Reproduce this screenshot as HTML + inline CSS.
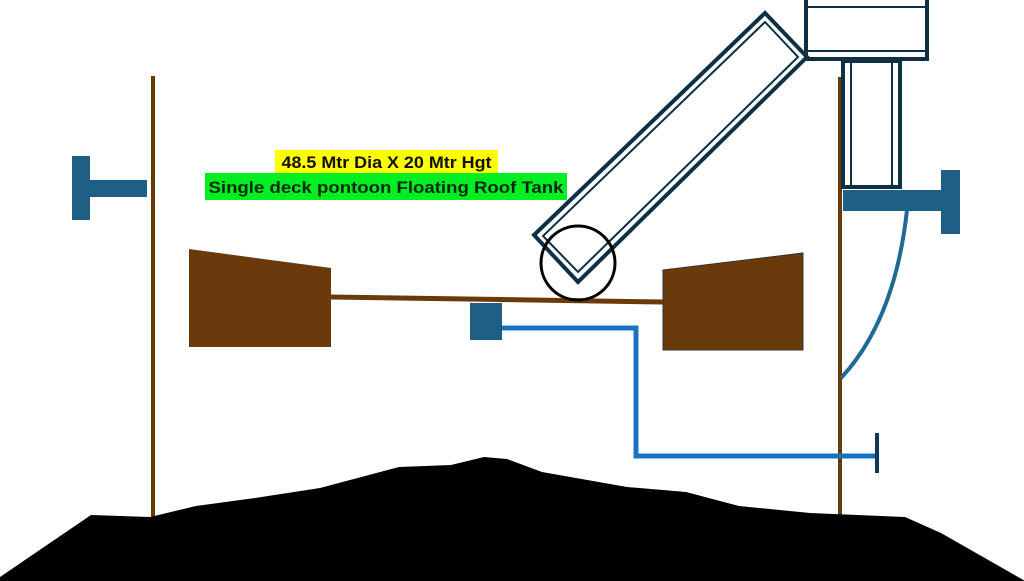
<!DOCTYPE html>
<html><head><style>html,body{margin:0;padding:0;background:#fff}svg{display:block}</style></head>
<body>
<svg width="1024" height="581" viewBox="0 0 1024 581" xmlns="http://www.w3.org/2000/svg">
<rect width="1024" height="581" fill="#fff"/>
<!-- walls -->
<rect x="151" y="76" width="4" height="442" fill="#6b3a0a"/>
<rect x="838" y="77" width="4" height="440" fill="#6b3a0a"/>
<!-- left T -->
<rect x="88" y="180" width="59" height="17" fill="#1f5f85"/>
<rect x="72" y="156" width="18" height="64" fill="#1f5f85"/>
<!-- right T -->
<rect x="843" y="190" width="99" height="21" fill="#1f5f85"/>
<rect x="941" y="170" width="19" height="64" fill="#1f5f85"/>
<path d="M907 210 Q895 320 841 378" fill="none" stroke="#1f6a94" stroke-width="4"/>
<!-- pontoons -->
<polygon points="189,249 331,268 331,347 189,347" fill="#6b3a0a"/>
<polygon points="663,270 803,253 803,350 663,350" fill="#6b3a0a" stroke="#333" stroke-width="1"/>
<line x1="331" y1="297" x2="663" y2="302" stroke="#6b3a0a" stroke-width="5"/>
<!-- blue square and pipe -->
<rect x="470" y="303" width="32" height="37" fill="#1f5f85"/>
<polyline points="502,328 636,328 636,456 877,456" fill="none" stroke="#1a73c0" stroke-width="5"/>
<rect x="875" y="433" width="4" height="40" fill="#0e3a55"/>
<!-- ladder -->
<polygon points="765,13 807,57 578,282 534,235" fill="none" stroke="#0d3044" stroke-width="4"/>
<polygon points="765,22 798,57 578,272 543,236" fill="none" stroke="#0d3044" stroke-width="2"/>
<circle cx="578" cy="263" r="37" fill="none" stroke="#000" stroke-width="3"/>
<!-- top box -->
<rect x="806" y="-4" width="121" height="63" fill="none" stroke="#0d3044" stroke-width="4"/>
<line x1="806" y1="7" x2="927" y2="7" stroke="#0d3044" stroke-width="2"/>
<line x1="806" y1="51" x2="927" y2="51" stroke="#0d3044" stroke-width="2"/>
<!-- column -->
<rect x="843" y="61" width="57" height="126" fill="none" stroke="#0d3044" stroke-width="4"/>
<line x1="851" y1="61" x2="851" y2="187" stroke="#0d3044" stroke-width="2"/>
<line x1="892" y1="61" x2="892" y2="187" stroke="#0d3044" stroke-width="2"/>
<!-- ground -->
<polygon fill="#000" points="0,577 91,515 150,517 196,506 255,498 320,488 399,467 451,465 484,457 507,459 542,472 627,487 686,492 739,506 810,513 905,517 941,533 1025,581 0,581"/>
<!-- labels -->
<rect x="275" y="150" width="223" height="23" fill="#ffff00"/>
<rect x="205" y="173" width="362" height="27" fill="#00ee22"/>
<text x="386.5" y="168" text-anchor="middle" font-family="Liberation Sans, sans-serif" font-weight="bold" font-size="17" fill="#111" textLength="210" lengthAdjust="spacingAndGlyphs">48.5 Mtr Dia X 20 Mtr Hgt</text>
<text x="386" y="193" text-anchor="middle" font-family="Liberation Sans, sans-serif" font-weight="bold" font-size="17" fill="#0b2a0b" textLength="355" lengthAdjust="spacingAndGlyphs">Single deck pontoon Floating Roof Tank</text>
</svg>
</body></html>
